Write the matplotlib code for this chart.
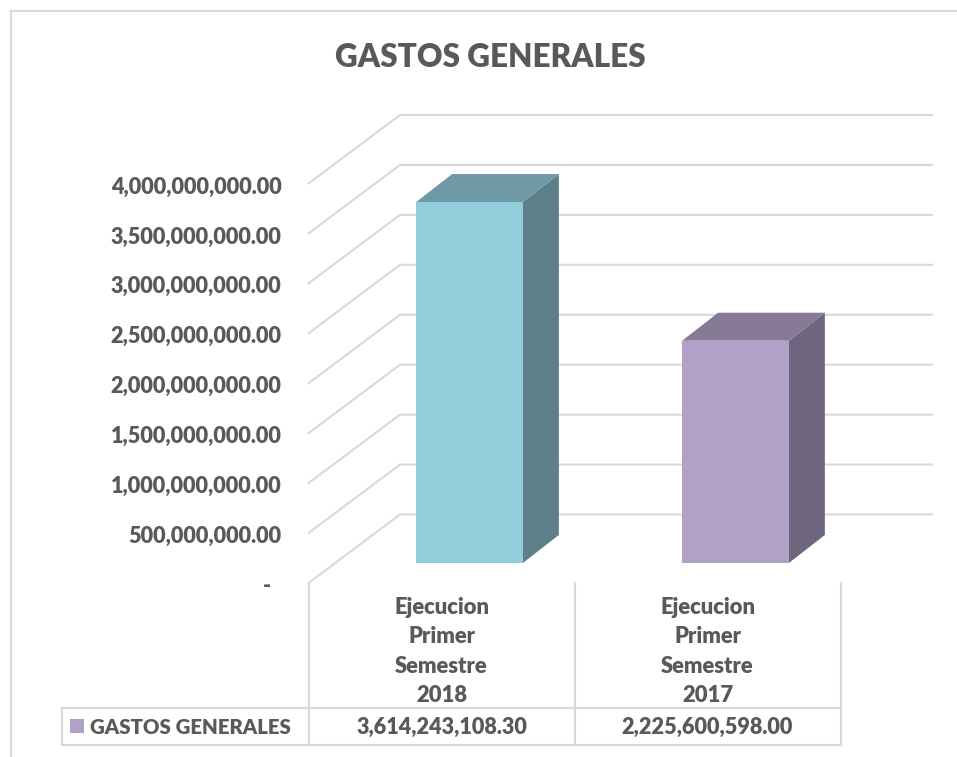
import matplotlib.pyplot as plt
from matplotlib.lines import Line2D
from matplotlib.patches import Polygon, Rectangle
from matplotlib.transforms import ScaledTranslation

plt.rcParams["font.family"] = ["Lato", "DejaVu Sans"]
plt.rcParams["font.weight"] = "heavy"

title = "GASTOS GENERALES"
series_name = "GASTOS GENERALES"
categories = ["Ejecucion\nPrimer\nSemestre\n2018", "Ejecucion\nPrimer\nSemestre\n2017"]
values = [3614243108.30, 2225600598.00]
value_labels = ["3,614,243,108.30", "2,225,600,598.00"]
ticks = [0, 500000000, 1000000000, 1500000000, 2000000000, 2500000000, 3000000000, 3500000000, 4000000000]
tick_labels = ["-", "500,000,000.00", "1,000,000,000.00", "1,500,000,000.00", "2,000,000,000.00",
               "2,500,000,000.00", "3,000,000,000.00", "3,500,000,000.00", "4,000,000,000.00"]

W, H = 957, 757
TEXT = "#595959"
GRID = "#D9D9D9"
FRONT = ["#92CDDC", "#B2A1C7"]
TOP = ["#7099A6", "#867A96"]
SIDE = ["#5C7F89", "#70657F"]

fig = plt.figure(figsize=(W / 100, H / 100), dpi=100)


def fx(x):
    return x / W


def fy(y):
    return 1 - y / H


def fig_line(x0, y0, x1, y1):
    fig.add_artist(Line2D([fx(x0), fx(x1)], [fy(y0), fy(y1)], color=GRID, lw=1.5))


# front plane of the 3d box: one category = 266 px, 4e9 = 399.5 px
ax = fig.add_axes([fx(308.5), fy(583), fx(840.5) - fx(308.5), fy(183.5) - fy(583)])
ax.set_xlim(0, 2)
ax.set_ylim(0, 4000000000)
ax.patch.set_visible(False)
for s in ax.spines.values():
    s.set_visible(False)

x_unit = 2 / 532
y_unit = 4000000000 / 399.5

# back wall offset
wall_dx = 91.5 * x_unit
wall_dy = 68.5 * y_unit
wall_end = 2 + wall_dx

for t in ticks:
    ax.plot([0, wall_dx, wall_end], [t, t + wall_dy, t + wall_dy], color=GRID, lw=1.5,
            clip_on=False, zorder=1, solid_joinstyle="miter")

# bars
bar_w = 106.7 * x_unit
shift_x = 28 * x_unit
shift_y = 20 * y_unit
depth_x = 36 * x_unit
depth_y = 28 * y_unit

for i, v in enumerate(values):
    x0 = i + 0.5 - bar_w / 2 + shift_x
    x1 = x0 + bar_w
    y0 = shift_y
    y1 = shift_y + v
    ax.add_patch(Polygon([(x1, y0), (x1 + depth_x, y0 + depth_y), (x1 + depth_x, y1 + depth_y), (x1, y1)],
                         color=SIDE[i], lw=0, zorder=3, clip_on=False))
    ax.add_patch(Polygon([(x0, y1), (x0 + depth_x, y1 + depth_y), (x1 + depth_x, y1 + depth_y), (x1, y1)],
                         color=TOP[i], lw=0, zorder=3, clip_on=False))
    ax.add_patch(Polygon([(x0, y0), (x1, y0), (x1, y1), (x0, y1)], color=FRONT[i], lw=0, zorder=4, clip_on=False))

ax.set_xticks([])
ax.set_yticks(ticks)
ax.set_yticklabels(tick_labels, fontsize=15.6, color=TEXT)
ax.tick_params(axis="y", length=0, pad=19.5)
ax.yaxis.get_major_ticks()[0].set_pad(27)
for lab in ax.get_yticklabels():
    lab.set_transform(lab.get_transform() + ScaledTranslation(0, -1.5 / 100, fig.dpi_scale_trans))

# outer frame
fig_line(10.5, 10.5, 957, 10.5)
fig_line(10.5, 10.5, 10.5, 757)

# data table
for x in [308.5, 574.5, 840.5]:
    fig_line(x, 583, x, 745)
fig_line(62, 708, 840.5, 708)
fig_line(62, 745, 840.5, 745)
fig_line(62, 708, 62, 745)

fig.add_artist(Rectangle((fx(70), fy(733)), 14 / W, 14 / H, transform=fig.transFigure, color=FRONT[1], lw=0))
fig.text(fx(90), fy(733.5), series_name, fontsize=14.65, color=TEXT, va="baseline", ha="left")

for i, cat in enumerate(categories):
    xc = 441.5 + i * 266
    for j, line in enumerate(cat.split("\n")):
        fig.text(fx(xc), fy(614 + j * 29.3), line, fontsize=15.8, color=TEXT, va="baseline", ha="center")
    fig.text(fx(xc), fy(734), value_labels[i], fontsize=15.6, color=TEXT, va="baseline", ha="center")

fig.text(fx(490), fy(67), title, fontsize=22.7, color=TEXT, va="baseline", ha="center")

fig.savefig("out.png", dpi=100)
